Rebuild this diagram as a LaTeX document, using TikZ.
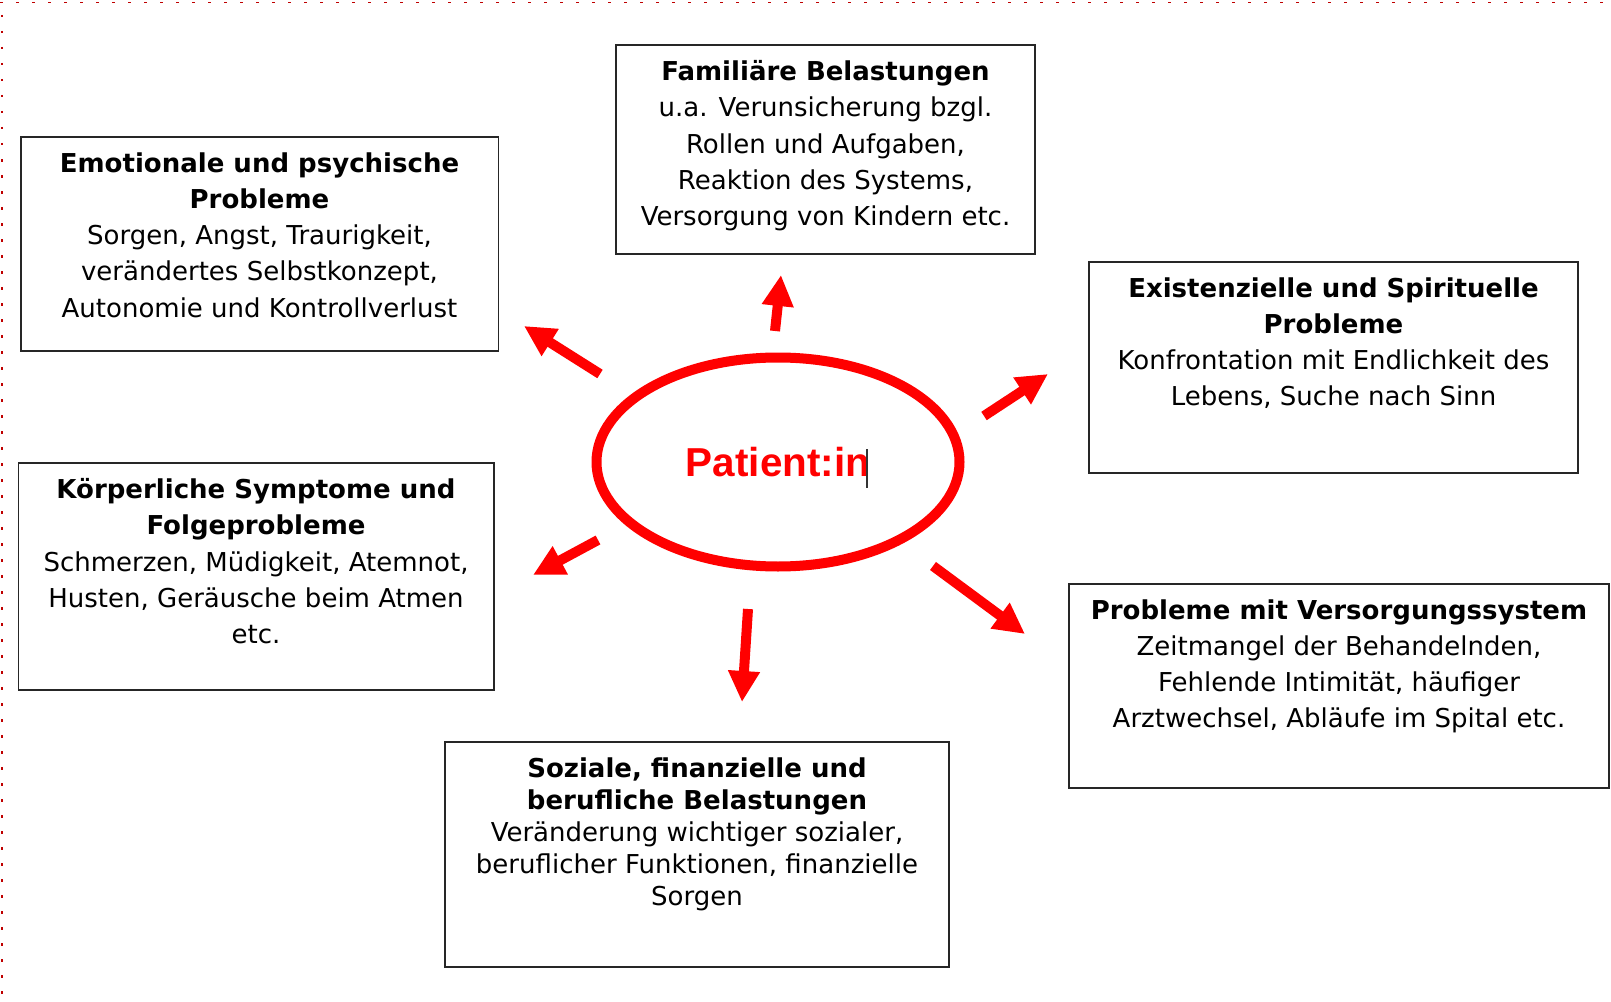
\documentclass[tikz,border=0pt]{standalone}
\usepackage{fontspec}
\setmainfont{DejaVu Sans}
\newfontfamily\patfont{Liberation Sans}
\usetikzlibrary{arrows.meta}
\usetikzlibrary{shapes.geometric}
\newcommand{\probtext}[3]{\parbox[c][#2][t]{#1}{\centering\vspace*{0.31cm}#3}}
\begin{document}
\begin{tikzpicture}[prob node/.style={rectangle,draw=black!85,line width=0.03cm,inner sep=0.,outer sep=0.,font=\fontsize{14.8}{20.6}\selectfont},
  pat node/.style={ellipse,draw=red,line width=0.2cm,minimum width=7.26cm,minimum height=4.18cm,inner sep=0.,text=red,font=\patfont\bfseries\fontsize{23}{26}\selectfont},
  red arrow/.style={draw=red,line width=0.2cm,-{Triangle[length=0.62cm,width=0.6cm]}},
  page dots/.style={draw=red!75!black,line width=0.028cm,dash pattern=on 0.05cm off 0.27cm}]%
  \useasboundingbox (0., 0.) rectangle (32.22, -20.04);
  \draw[page dots] (0., -0.05)--(32.22, -0.05);
  \draw[page dots] (0.04, -0.3)--(0.04, -20.);
  \node[pat node] (pat) at (15.56, -9.24) {Patient:in};
  \draw[black!80, line width=0.03cm] ([shift={(1.78, 0.26)}]pat.center)--([shift={(1.78, -0.52)}]pat.center);
  \node[prob node] (emot) at (5.19, -4.88) {\probtext{9.55cm}{4.28cm}{{\bfseries Emotionale und psychische\\Probleme}\\Sorgen, Angst, Traurigkeit,\\verändertes Selbstkonzept,\\Autonomie und Kontrollverlust}};
  \node[prob node] (fam) at (16.51, -2.99) {\probtext{8.38cm}{4.18cm}{{\bfseries Familiäre Belastungen}\\u.a. Verunsicherung bzgl.\\Rollen und Aufgaben,\\Reaktion des Systems,\\Versorgung von Kindern etc.}};
  \node[prob node] (exist) at (26.67, -7.35) {\probtext{9.78cm}{4.22cm}{{\bfseries Existenzielle und Spirituelle\\Probleme}\\Konfrontation mit Endlichkeit des\\Lebens, Suche nach Sinn}};
  \node[prob node] (koerp) at (5.12, -11.53) {\probtext{9.51cm}{4.54cm}{{\bfseries Körperliche Symptome und\\Folgeprobleme}\\Schmerzen, Müdigkeit, Atemnot,\\Husten, Geräusche beim Atmen\\etc.}};
  \node[prob node] (soz) at (13.94, -17.09) {\probtext{10.08cm}{4.5cm}{\fontsize{14.8}{18.3}\selectfont{\bfseries Soziale, finanzielle und\\berufliche Belastungen}\\Veränderung wichtiger sozialer,\\beruflicher Funktionen, finanzielle\\Sorgen}};
  \node[prob node] (vers) at (26.78, -13.72) {\probtext{10.8cm}{4.08cm}{{\bfseries Probleme mit Versorgungssystem}\\Zeitmangel der Behandelnden,\\Fehlende Intimität, häufiger\\Arztwechsel, Abläufe im Spital etc.}};
  \coordinate (famTail) at (15.50, -6.62);
  \coordinate (famTip) at (15.62, -5.50);
  \coordinate (emotTail) at (12.00, -7.48);
  \coordinate (emotTip) at (10.48, -6.52);
  \coordinate (existTail) at (19.68, -8.32);
  \coordinate (existTip) at (20.96, -7.48);
  \coordinate (koerpTail) at (11.96, -10.80);
  \coordinate (koerpTip) at (10.66, -11.50);
  \coordinate (sozTail) at (14.96, -12.18);
  \coordinate (sozTip) at (14.84, -14.04);
  \coordinate (versTail) at (18.66, -11.32);
  \coordinate (versTip) at (20.50, -12.68);
  \draw[red arrow] (famTail)--(famTip);
  \draw[red arrow] (emotTail)--(emotTip);
  \draw[red arrow] (existTail)--(existTip);
  \draw[red arrow] (koerpTail)--(koerpTip);
  \draw[red arrow] (sozTail)--(sozTip);
  \draw[red arrow] (versTail)--(versTip);
\end{tikzpicture}
\end{document}
